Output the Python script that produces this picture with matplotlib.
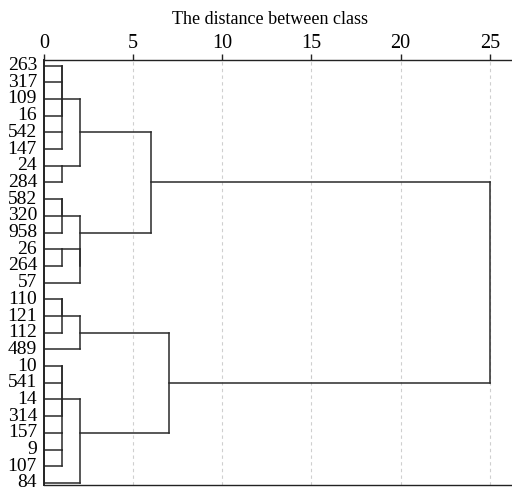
import matplotlib
matplotlib.use("Agg")
import matplotlib.pyplot as plt

plt.rcParams['font.family'] = ['Liberation Serif', 'DejaVu Serif']

# Leaf order (top to bottom)
leaves = ['263', '317', '109', '16', '542', '147', '24', '284', '582', '320',
          '958', '26', '264', '57', '110', '121', '112', '489', '10', '541',
          '14', '314', '157', '9', '107', '84']

# Agglomeration schedule: cluster n_leaves + i joins link_a[i] and link_b[i]
link_a = [0, 2, 4, 26, 29, 6, 30, 8, 33, 11, 35, 34, 32,
          14, 39, 40, 18, 20, 42, 23, 22, 44, 47, 41, 38]
link_b = [1, 3, 5, 27, 28, 7, 31, 9, 10, 12, 13, 36, 37,
          15, 16, 17, 19, 21, 43, 24, 45, 46, 25, 48, 49]
link_dist = [1, 1, 1, 1, 1, 1, 2, 1, 1, 1, 2, 2, 6,
             1, 1, 2, 1, 1, 1, 1, 1, 1, 2, 7, 25]

x_ticks = [0, 5, 10, 15, 20, 25]
title = 'The distance between class'

W, H = 512, 488
fig = plt.figure(figsize=(W / 100, H / 100), dpi=100)
ax = fig.add_axes([44 / W, 3 / H, 468 / W, 425 / H])

n = len(leaves)
row = {i: i for i in range(n)}
height = {i: 0.0 for i in range(n)}
line_kw = dict(color='#2a2a2a', lw=1.1, solid_capstyle='projecting')

for k, (a, b, d) in enumerate(zip(link_a, link_b, link_dist)):
    ra, rb = row[a], row[b]
    ax.plot([height[a], d], [ra, ra], **line_kw)
    ax.plot([height[b], d], [rb, rb], **line_kw)
    ax.plot([d, d], [ra, rb], **line_kw)
    node = n + k
    row[node] = (ra + rb) // 2
    height[node] = d

for xt in x_ticks[1:]:
    ax.axvline(xt, color='#cfcfcf', lw=0.8, ls=(0, (3, 3)), zorder=0)

ax.set_xlim(0, 468 / 17.83)
ax.set_ylim(25.12, -0.33)

ax.xaxis.tick_top()
ax.set_xticks(x_ticks)
ax.set_xticklabels([str(t) for t in x_ticks], fontsize=14.5)
ax.tick_params(axis='x', direction='out', length=4, width=1.0, pad=1,
               color='#222222')
ax.set_yticks(range(n))
ax.set_yticklabels(leaves, fontsize=14)
ax.tick_params(axis='y', length=0, pad=5)
for lab in ax.get_yticklabels():
    lab.set_verticalalignment('center')

fig.text(270 / W, 1 - 19 / H, title, fontsize=13, ha='center', va='center')

ax.spines['right'].set_visible(False)
ax.spines['left'].set_linewidth(1.4)
ax.spines['top'].set_linewidth(1.0)
ax.spines['bottom'].set_linewidth(1.0)
for s in ax.spines.values():
    s.set_color('#222222')

fig.savefig('out.png', dpi=100)
